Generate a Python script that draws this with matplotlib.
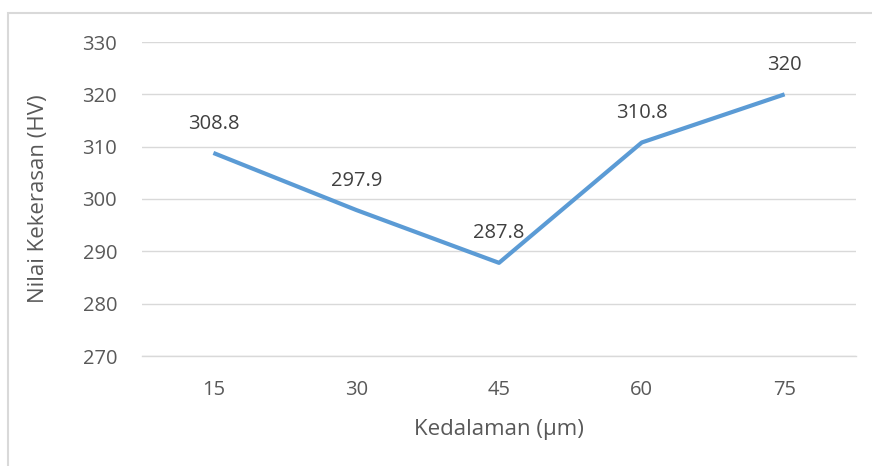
import matplotlib.pyplot as plt
from matplotlib.patches import Rectangle

# data
depths = ['15', '30', '45', '60', '75']
hardness = [308.8, 297.9, 287.8, 310.8, 320]
labels = ['308.8', '297.9', '287.8', '310.8', '320']

text_color = '#595959'
label_color = '#404040'
line_color = '#5B9BD5'
grid_color = '#D9D9D9'

plt.rcParams['font.family'] = ['Open Sans', 'DejaVu Sans']

fig = plt.figure(figsize=(8.72, 4.66), dpi=100)
ax = fig.add_axes([142 / 872, 1 - 356 / 466, 714 / 872, 314 / 466])

x = list(range(len(depths)))
ax.plot(x, hardness, color=line_color, linewidth=3, solid_capstyle='butt', zorder=3)

for xi, yi, lab in zip(x, hardness, labels):
    ax.annotate(lab, (xi, yi), xytext=(0, 14), textcoords='offset points',
                ha='center', va='bottom', fontsize=14.5, color=label_color)

ax.set_xlim(-0.5, len(depths) - 0.5)
ax.set_ylim(270, 330)
ax.set_yticks(range(270, 331, 10))
ax.set_xticks(x)
ax.set_xticklabels(depths)

ax.grid(axis='y', color=grid_color, linewidth=1)
ax.set_axisbelow(True)
for side in ['top', 'right', 'left']:
    ax.spines[side].set_visible(False)
ax.spines['bottom'].set_color(grid_color)
ax.spines['bottom'].set_linewidth(1)

ax.tick_params(axis='both', length=0, labelsize=14.5, labelcolor=text_color)
ax.tick_params(axis='y', pad=18)
ax.tick_params(axis='x', pad=17)

ax.set_xlabel('Kedalaman (µm)', fontsize=16, color=text_color, labelpad=14)
ax.set_ylabel('Nilai Kekerasan (HV)', fontsize=16, color=text_color, labelpad=24)

# chart border, partly cut off at right and bottom
fig.add_artist(Rectangle((8 / 872, -0.1), 1.0, 1.1 - 13 / 466,
                         transform=fig.transFigure, fill=False,
                         edgecolor=grid_color, linewidth=1.5))

fig.savefig('out.png', dpi=100)
